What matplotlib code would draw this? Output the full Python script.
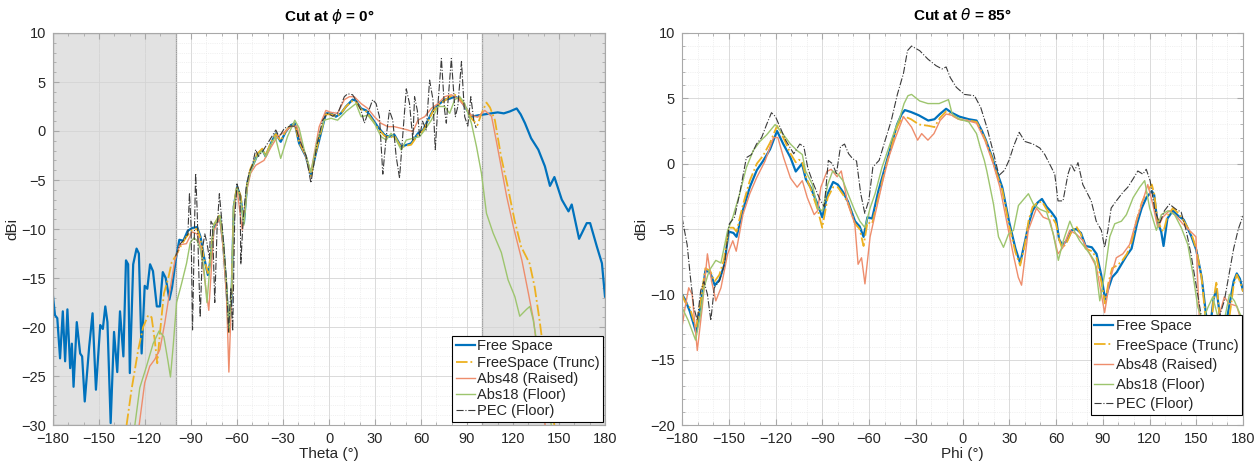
import matplotlib
matplotlib.use("Agg")
import matplotlib.pyplot as plt
from matplotlib.ticker import MultipleLocator

plt.rcParams["font.family"] = ["Liberation Sans", "DejaVu Sans"]
plt.rcParams["mathtext.fontset"] = "dejavusans"

# ---------------- Cut at phi = 0 (Theta sweep) ----------------
th_fs = [-180, -178.7, -177.2, -175.4, -173.6, -172.1, -170.6, -168.8, -167.7, -166.6,
         -164.5, -162.3, -161, -159.3, -156.4, -154.2, -152, -149.2, -147.5, -145.9,
         -144.5, -142.4, -140.2, -138.1, -136.3, -134.1, -132.4, -131, -129.9, -127.7,
         -125.5, -124, -122.2, -120.2, -118.5, -116.7, -114.8, -112.3, -110.3, -108.4,
         -106.5, -104.1, -102.4, -99.8, -97.6, -95, -92.2, -89.3, -86, -83.8,
         -81.6, -79, -77.3, -75.1, -72.9, -71.2, -69, -66.8, -65.3, -63.6,
         -62.1, -59.9, -57.7, -55.5, -53.3, -51.1, -46.7, -43.5, -41.3, -38,
         -34.7, -31.5, -28.2, -24.9, -22.3, -19.5, -15.1, -11.8, -8.6, -5.3,
         -2, 1.3, 4.5, 7.8, 11.1, 15.4, 17.5, 20.9, 24.2, 27.4,
         31.8, 36.2, 39.4, 42.7, 47.1, 50.4, 53.6, 58, 61.3, 64.5,
         67.8, 71.1, 75.4, 78.7, 82, 85.3, 88.5, 92.9, 97.3, 101.6,
         105.9, 110, 114, 118, 122.4, 125, 127.8, 131.8, 136.5, 140.8,
         144.1, 147, 151.8, 156.2, 158.3, 163.1, 168.1, 170.3, 174.7, 178, 180]
g_fs = [-16.9, -18.8, -19.1, -23.2, -18.4, -23.5, -18.2, -24.2, -21.7, -26.1,
        -19.5, -22.7, -23.0, -27.6, -22.0, -18.6, -26.4, -19.8, -20.2, -17.9,
        -19.5, -29.8, -20.5, -24.6, -18.4, -23.0, -13.2, -13.6, -24.7, -13.6,
        -12.0, -12.5, -22.7, -15.8, -16.1, -13.6, -14.3, -17.9, -17.9, -14.4,
        -15.0, -17.2, -16.0, -13.0, -11.1, -11.2, -10.2, -9.9, -9.8, -10.8,
        -12.8, -14.7, -13.2, -9.8, -9.3, -8.7, -11.5, -16.2, -20.5, -17.2,
        -7.7, -5.7, -6.7, -9.4, -5.3, -4.0, -2.45, -1.9, -2.6, -1.3,
        -0.25, -1.1, -0.07, 0.6, 0.78, -1.26, -2.6, -4.5, -2.3, -0.24,
        1.8, 1.8, 1.46, 1.8, 2.5, 3.2, 3.1, 2.3, 2.1, 1.46,
        0.44, -0.4, -0.58, -0.4, -1.6, -1.43, -1.26, -0.24, 0.1, 1.1,
        2.1, 2.65, 3.2, 3.3, 3.5, 3.3, 2.5, 1.46, 1.6, 1.7,
        1.8, 1.9, 1.8, 2.0, 2.3, 1.7, 0.8, -0.74, -1.9, -3.6,
        -5.6, -4.7, -7.0, -8.2, -7.5, -11.0, -9.4, -9.4, -11.8, -13.5, -16.9]

th_tr = [-132, -128.8, -124.4, -121.2, -117.9, -115.7, -113.6, -112, -110.3, -107.7,
         -104.8, -102.6, -99.4, -96.2, -93, -89.3, -86, -83.8, -81.6, -79,
         -77.3, -75.1, -72.9, -71.2, -69, -66.8, -65.3, -63.6, -62.1, -59.9,
         -57.7, -55.5, -53.3, -51.1, -46.7, -43.5, -41.3, -38, -34.7, -31.5,
         -28.2, -24.9, -22.3, -19.5, -15.1, -11.8, -8.6, -5.3, -2, 1.3,
         4.5, 7.8, 11.1, 15.4, 17.5, 20.9, 24.2, 27.4, 31.8, 36.2,
         39.4, 42.7, 47.1, 50.4, 53.6, 58, 61.3, 64.5, 67.8, 71.1,
         75.4, 78.7, 82, 85.3, 88.5, 92.9, 96.8, 99.5, 102.7, 105,
         108.2, 112.2, 116.6, 121, 125.3, 130.8, 134.1, 137.3, 140, 143, 147]
g_tr = [-30, -26.4, -22.3, -20.0, -18.8, -19.0, -21.4, -23.7, -20.7, -16.6,
        -15.0, -13.4, -12.6, -11.6, -10.8, -10.1, -10.0, -11.0, -13.0, -14.5,
        -12.8, -9.6, -9.0, -8.5, -11.5, -16.0, -20.7, -16.8, -7.5, -5.6,
        -6.6, -9.2, -5.2, -3.8, -2.3, -1.8, -2.5, -1.2, -0.3, -1.0,
        0.0, 0.6, 0.8, -1.2, -2.5, -4.6, -2.2, -0.1, 1.7, 1.7,
        1.5, 1.8, 2.5, 3.1, 3.0, 2.2, 2.0, 1.3, 0.3, -0.5,
        -0.7, -0.5, -1.7, -1.5, -1.4, -0.4, 0.0, 1.0, 2.0, 2.6,
        3.1, 3.5, 3.7, 3.3, 2.6, 1.3, 0.6, 1.8, 2.9, 2.4,
        1.1, -2.6, -5.7, -9.1, -11.8, -13.5, -15.9, -19.3, -22.5, -26.5, -30.0]

th_a48 = [-123.8, -120.2, -116.9, -113.6, -110.3, -107.1, -103.8, -100.5, -97.3, -93,
          -89.3, -86, -83.8, -81.6, -78.4, -76.5, -75.1, -72.9, -71.2, -69,
          -66.8, -65.3, -63.6, -62.1, -59.9, -56.6, -53.3, -51.1, -47.8, -42.4,
          -38, -33.7, -28.2, -24.9, -21, -17.3, -11.8, -6.4, -2.0, 1.3,
          5.6, 10, 13.3, 16.5, 20.9, 25.3, 29.6, 34, 38.4, 42.7,
          47.1, 51.4, 54.7, 58, 62.4, 66.7, 71.1, 75.4, 79.8, 84.2,
          88.5, 92.9, 97, 101.6, 106, 108.5, 111.5, 115.9, 120.3, 125.8,
          130.1, 133.4, 137, 141]
g_a48 = [-30, -25.7, -24.0, -23.3, -22.3, -19.6, -16.3, -13.2, -11.6, -11.5,
         -10.3, -10.5, -11.8, -14.5, -18.3, -13.5, -10.2, -9.4, -8.9, -12.0,
         -17.0, -24.6, -17.0, -8.0, -6.0, -10.1, -5.8, -4.3, -3.5, -3.0,
         -1.7, -0.6, 0.0, 0.44, 0.5, -1.6, -4.2, 0.44, 2.1, 1.9,
         1.8, 3.2, 3.5, 3.5, 2.8, 2.3, 1.46, 0.78, 0.44, 0.44,
         0.27, 0.1, -0.07, 1.1, 1.46, 2.3, 2.8, 3.5, 3.7, 3.3,
         2.5, 1.6, 1.4, 2.1, 1.5, -0.5, -3.0, -6.7, -9.8, -13.2,
         -16.6, -19.3, -24.0, -30.0]

th_a18 = [-126.6, -123.4, -119, -114.7, -110.8, -107.7, -105, -103.4, -101.6, -99.4,
          -96.2, -92.9, -90.5, -88, -86, -84, -81.6, -79.6, -77.5, -75.1,
          -72.9, -71.2, -69, -66.8, -65.3, -63.6, -62.1, -59.9, -57.7, -55.5,
          -53.3, -51.1, -46.7, -43.5, -41.3, -38, -35, -31.5, -27.1, -22.3,
          -19.5, -16.2, -11.8, -7.5, -3.1, 1.3, 5.6, 11.1, 17.6, 20.9,
          25.3, 29.6, 34, 37.3, 40.5, 43.8, 47.1, 50.4, 54.7, 59.1,
          62.4, 66.7, 71.1, 75.4, 78.7, 82, 85.3, 88.5, 92.9, 96.2,
          99.4, 102.7, 107, 112.4, 116.8, 121.2, 124.4, 128.8, 131, 133.2,
          137, 141, 145]
g_a18 = [-30, -26.2, -24.0, -21.7, -20.4, -21.0, -23.5, -25.1, -21.9, -17.5,
         -15.6, -13.5, -11.4, -10.9, -11.2, -12.0, -14.0, -17.5, -13.5, -9.5,
         -9.0, -8.6, -11.3, -15.8, -20.2, -16.5, -7.6, -5.8, -7.0, -9.6,
         -5.5, -4.1, -2.5, -2.0, -2.6, -1.4, -0.6, -2.8, -0.58, 1.1,
         0.3, -1.9, -4.2, -0.9, 1.1, 1.3, 1.1, 2.0, 2.8, 1.46,
         1.6, 0.78, -0.58, -0.92, -0.24, -0.92, -1.94, -0.92, -0.75, -0.58,
         0.1, 1.1, 2.5, 2.5, 1.8, 3.2, 3.5, 2.8, 0.78, -1.6,
         -4.3, -8.4, -10.4, -12.4, -15.2, -16.9, -18.9, -18.2, -17.9, -19.3,
         -23.0, -27.0, -30.0]

th_pec = [-100, -97, -94, -92, -91, -90, -89, -88, -87, -86,
          -85, -84, -82.5, -81, -79.5, -78, -77, -76, -74.5, -73,
          -71.5, -70, -69, -67, -65.5, -64, -62.8, -61.5, -60, -58,
          -57.5, -56, -54, -52, -50, -47.8, -46, -43, -39, -34.7,
          -32.5, -29, -25, -22, -19, -15, -11.8, -8, -4.2, -0.9,
          2.5, 6, 10, 12.2, 15.4, 18.7, 20.9, 23.1, 25.3, 28.5,
          30.7, 32.9, 35.1, 37.3, 39.4, 41.6, 43.8, 46, 48.2, 50.4,
          52.5, 54.7, 55.8, 57.6, 59.1, 61, 63.4, 65.6, 67.8, 69.3,
          71.1, 73.3, 75.4, 76.5, 79.8, 82.4, 84, 86.4, 88.5, 90.5,
          92.5, 94.5, 96]
g_pec = [-12.8, -11.5, -11.0, -10.5, -6.3, -9.5, -20.3, -12.0, -4.3, -8.0,
         -14.0, -19.0, -12.0, -10.5, -11.5, -13.0, -9.2, -9.5, -17.5, -10.0,
         -6.4, -9.0, -11.0, -15.0, -20.5, -16.0, -20.4, -9.0, -5.4, -6.5,
         -13.6, -9.0, -5.8, -4.2, -3.5, -1.9, -2.6, -2.0, -1.0, 0.1,
         -0.6, 0.3, 0.5, 0.5, -1.0, -2.5, -5.3, -1.5, 1.1, 1.8,
         1.5, 1.9, 3.5, 3.8, 3.7, 2.8, 2.1, 0.8, 1.8, 3.2,
         2.8, 1.46, -4.4, -0.6, 2.1, 1.1, -2.6, -4.8, -0.24, 4.3,
         2.8, -0.9, 3.5, 2.1, -0.6, 1.0, 0.1, 5.2, 3.2, -1.9,
         2.8, 7.4, 2.1, 0.8, 7.4, 1.46, 2.5, 7.1, 1.46, 0.5,
         3.5, 1.0, 0.3]

# ---------------- Cut at theta = 85 (Phi sweep) ----------------
ph_fs = [-180, -178, -175, -171, -168, -165, -162, -159, -156, -153,
         -150, -147, -145, -141, -136.5, -132, -128, -123.5, -119, -115,
         -110.5, -107, -105, -103, -100.5, -97.5, -93, -90, -86.5, -83,
         -80, -76.5, -73.5, -69, -66, -63.5, -61, -58, -54, -50,
         -45.5, -42, -39, -37, -33, -28, -22, -18, -14.5, -10.5,
         -7, -2, 4, 9, 12.5, 15, 19, 22, 25.5, 30,
         34, 37, 40, 42.5, 45, 48, 51, 54, 57, 60,
         62, 64, 67, 70, 73, 76, 79, 83, 86, 89,
         91.5, 93.5, 96, 99, 102, 105.5, 108.5, 112, 115, 118,
         121.5, 123, 125, 127.5, 129, 131.5, 135, 138.5, 142, 147,
         150, 153.5, 156.5, 159, 161, 163, 165, 168, 171, 174,
         176, 178, 180]
p_fs = [-10.0, -10.4, -11.3, -12.9, -10.8, -8.2, -8.3, -9.3, -8.9, -7.8,
        -5.2, -5.3, -5.6, -3.6, -1.8, -0.5, 0.2, 1.1, 2.5, 1.5,
        0.5, -0.6, -0.3, 0.0, -1.2, -1.8, -3.1, -4.1, -2.3, -1.4,
        -1.6, -2.2, -2.9, -4.4, -4.8, -5.6, -4.1, -4.2, -2.1, -0.4,
        1.5, 3.0, 3.8, 4.1, 3.95, 3.7, 3.3, 3.4, 3.8, 4.2,
        3.9, 3.6, 3.4, 3.3, 2.5, 1.8, 0.5, -0.6, -1.8, -4.5,
        -6.5, -7.6, -6.0, -4.6, -3.6, -3.0, -2.7, -3.3, -3.7, -4.2,
        -5.8, -6.2, -5.9, -5.1, -5.0, -5.3, -6.3, -6.4, -6.9, -8.5,
        -10.4, -9.6, -8.7, -8.3, -7.7, -7.0, -6.5, -4.6, -3.4, -2.6,
        -2.1, -2.4, -4.4, -5.2, -6.3, -4.2, -3.6, -4.0, -4.3, -5.6,
        -6.6, -8.7, -11.8, -12.5, -10.4, -9.6, -11.5, -13.0, -11.0, -9.0,
        -8.4, -8.8, -9.7]

ph_tr = ph_fs
p_tr = [-10.0, -10.6, -11.0, -12.6, -10.5, -8.0, -8.2, -9.0, -8.5, -7.3,
        -4.9, -4.9, -5.2, -3.2, -1.3, 0.0, 0.6, 1.6, 2.9, 2.0,
        0.8, 0.1, 0.3, 0.2, -1.0, -1.9, -3.5, -4.9, -2.6, -1.8,
        -1.8, -2.4, -3.0, -4.6, -5.0, -6.3, -4.5, -4.6, -2.6, -0.6,
        1.3, 2.8, 3.5, 3.6, 3.4, 3.0, 2.9, 2.8, 3.5, 4.0,
        3.7, 3.4, 3.3, 3.2, 2.4, 1.7, 0.4, -0.8, -2.0, -4.8,
        -6.8, -7.8, -6.2, -4.3, -3.3, -3.0, -2.9, -3.5, -4.0, -4.6,
        -5.8, -6.5, -6.0, -5.2, -4.8, -5.4, -6.5, -6.7, -7.2, -9.0,
        -10.7, -9.2, -8.0, -7.8, -7.5, -6.9, -6.0, -4.2, -3.0, -2.2,
        -1.6, -2.3, -4.2, -5.0, -5.2, -4.0, -3.4, -3.8, -4.4, -5.4,
        -6.5, -8.8, -12.5, -13.5, -10.5, -9.0, -11.8, -13.5, -12.0, -9.3,
        -8.5, -9.0, -9.8]

ph_a48 = [-180, -178, -175.7, -173.5, -170.2, -167, -163.7, -161, -158.3, -155,
          -150.7, -147.4, -145.2, -140.9, -136.5, -132.2, -126.7, -121.3, -118.5, -114.8,
          -110.4, -106.1, -102.8, -99.6, -95.2, -93, -90.9, -87, -84.3, -80.5,
          -77.8, -73.5, -69.1, -67, -64.8, -62.6, -59.3, -56.1, -51.7, -47.4,
          -43, -37.9, -32.7, -28.8, -26.2, -22.2, -18.3, -14.4, -10.5, -6.6,
          -2.7, 3, 9, 14.3, 19.8, 24, 28.3, 32.5, 35.8, 37.9,
          42.2, 47.5, 51.8, 56, 61.3, 64.5, 68.8, 73.1, 77.4, 81.6,
          85.9, 89.1, 91.2, 94.4, 98.7, 102.9, 107.2, 111.5, 115.7, 118.9,
          122.1, 125.3, 128.5, 132.8, 137.1, 141.3, 145.6, 149.8, 152, 155,
          160, 165, 168, 171, 176, 180]
p_a48 = [-12.5, -11.0, -9.5, -10.0, -14.3, -11.0, -6.9, -9.0, -10.5, -9.5,
         -6.9, -5.9, -6.7, -3.9, -2.3, -1.1, 0.2, 2.0, 2.0, 0.46,
         -1.1, -1.8, -1.3, -2.6, -3.9, -3.6, -1.8, -0.6, -0.43, -1.0,
         -0.56, -3.1, -4.6, -7.7, -7.2, -9.2, -5.6, -3.9, -1.6, 0.46,
         2.0, 3.6, 2.8, 1.8, 2.3, 1.8, 2.3, 3.3, 3.8, 3.7,
         3.4, 3.3, 3.1, 1.8, -0.05, -1.8, -4.4, -6.9, -8.7, -9.3,
         -5.1, -3.4, -4.1, -4.3, -6.9, -6.4, -5.1, -5.4, -5.9, -6.9,
         -7.9, -10.0, -11.4, -9.0, -7.2, -6.9, -6.2, -4.4, -2.85, -1.6,
         -3.1, -4.9, -4.1, -3.6, -4.0, -4.6, -5.1, -5.6, -12.0, -15.0,
         -13.5, -11.5, -10.2, -10.7, -10.9, -12.5]

ph_a18 = [-180, -176, -171.3, -168, -165.9, -162.6, -158.3, -155, -150.7, -147.4,
          -143, -138.7, -134.3, -130, -125.7, -120.2, -114.8, -110.4, -106.1, -102.8,
          -100.7, -96.3, -93, -89.8, -86.5, -83.3, -80, -76.7, -73.5, -69.1,
          -65.9, -62.6, -59.3, -56.1, -51.7, -47.4, -43, -40, -37.5, -35,
          -32.7, -27.5, -22.2, -15, -11, -9, -6.6, -2, 4, 9,
          11.5, 14, 15.6, 19.9, 23.1, 26.3, 29.5, 32.7, 35.9, 42.3,
          45.5, 49.8, 54, 58.3, 61.5, 64.7, 68.9, 71, 75.2, 81.7,
          85, 88.1, 91.3, 94.5, 97.7, 102, 105.2, 109.5, 113.7, 116.9,
          120.1, 124.4, 127.6, 131.9, 136.1, 140.4, 144.6, 147.8, 151, 154.2,
          157.5, 160.6, 164, 168, 171.3, 174.5, 177, 180]
p_a18 = [-11.0, -12.0, -13.5, -11.5, -9.5, -8.2, -7.4, -7.6, -5.1, -4.1,
         -2.3, -0.3, 1.0, 1.7, 2.2, 3.0, 2.2, 1.5, 1.0, 0.7,
         -0.56, -1.6, -3.4, -3.6, -1.6, -0.56, -0.8, -1.3, -2.3, -3.6,
         -4.4, -4.9, -3.4, -2.3, -0.3, 1.2, 2.7, 3.6, 4.6, 5.2,
         5.3, 4.8, 4.6, 4.6, 4.8, 4.9, 3.8, 3.4, 3.2, 2.3,
         1.2, 0.25, -0.56, -3.1, -5.6, -6.4, -5.4, -5.1, -3.2, -2.3,
         -3.1, -3.5, -3.7, -5.4, -7.4, -5.9, -4.4, -5.0, -5.9, -6.9,
         -7.5, -10.5, -8.4, -5.6, -4.6, -4.4, -3.9, -2.6, -1.8, -1.3,
         -3.4, -5.1, -3.9, -3.6, -3.9, -4.9, -6.2, -8.4, -11.0, -12.0,
         -11.0, -10.2, -11.8, -12.0, -10.0, -10.5, -11.2, -12.0]

ph_pec = [-180, -176.7, -174.6, -172.4, -170.2, -168, -165.9, -163.7, -161.5, -159.3,
          -156.1, -152.8, -149.6, -146.3, -143, -138.7, -135.4, -132.2, -128.9, -125.7,
          -122.6, -120, -113.5, -108.3, -104.4, -101.8, -99.2, -95.3, -91.3, -88.7,
          -86.1, -83.5, -80.9, -78.3, -75.7, -73.1, -70.5, -68, -65.3, -62.7,
          -60.1, -57.5, -53.5, -49.6, -45.7, -41.8, -37.9, -35.3, -32.7, -27.5,
          -22.2, -17, -13.1, -10.5, -7.9, -4, 1.2, 7.7, 11.7, 15.6,
          19.5, 23.4, 27, 30, 33, 36.4, 40, 45.3, 49.6, 52.8,
          56, 59.2, 61.3, 64.5, 67.7, 69.8, 71.9, 74.1, 77.2, 79.4,
          82.6, 85.8, 89.1, 91.2, 93.3, 95.4, 98.7, 102.9, 106.1, 109.3,
          112.5, 115.7, 117.9, 120.4, 123.2, 126.4, 129.6, 132.8, 137.1, 140.3,
          143.5, 146.6, 149.8, 153, 156.2, 160, 164, 168, 171, 174,
          177, 180]
p_pec = [-4.1, -6.2, -8.7, -11.0, -12.0, -9.7, -9.0, -10.0, -12.0, -9.5,
         -9.0, -7.7, -4.6, -4.1, -2.3, 0.46, 0.7, 1.5, 2.0, 3.0,
         3.9, 3.6, 1.8, 0.76, 1.5, 1.3, -0.38, -1.65, -2.8, -3.3,
         0.25, 0.0, -0.76, 1.3, 1.5, 0.76, 0.38, 0.2, -2.3, -3.8,
         -2.8, -0.25, 0.25, 1.8, 3.3, 5.3, 6.9, 8.65, 9.0, 8.65,
         8.0, 7.5, 7.25, 7.4, 6.6, 5.85, 5.3, 5.2, 4.3, 2.8,
         1.0, -0.9, -0.5, 0.3, 1.4, 2.4, 1.7, 1.5, 1.2, 0.7,
         -0.05, -0.8, -2.85, -2.85, -0.8, -0.05, -0.56, 0.08, -1.6, -2.1,
         -2.85, -4.4, -5.1, -6.4, -5.1, -3.4, -2.85, -2.2, -1.8, -1.2,
         -0.56, -0.8, -0.43, -1.3, -3.4, -4.6, -3.6, -3.1, -3.5, -3.7,
         -5.1, -6.9, -9.2, -11.5, -12.5, -13.0, -12.0, -10.5, -8.5, -6.5,
         -5.0, -4.0]

labels = ["Free Space", "FreeSpace (Trunc)", "Abs48 (Raised)", "Abs18 (Floor)", "PEC (Floor)"]
colors = ["#0072BD", "#EDB120", "#EE8D6C", "#9DC56E", "#3a3a3a"]
styles = ["-", "-.", "-", "-", "-."]
widths = [1.6, 1.3, 1.0, 1.0, 0.8]

tick_col = "#262626"
frame_col = "#a8a8a8"


def style_axes(ax, ymin, ymax, xlabel, title):
    ax.set_xlim(-180, 180)
    ax.set_ylim(ymin, ymax)
    ax.xaxis.set_major_locator(MultipleLocator(30))
    ax.xaxis.set_minor_locator(MultipleLocator(10))
    ax.yaxis.set_major_locator(MultipleLocator(5))
    ax.yaxis.set_minor_locator(MultipleLocator(1))
    ax.set_axisbelow(True)
    ax.grid(which="major", color="#d4d4d4", linewidth=0.6)
    ax.grid(which="minor", color="#e4e4e4", linewidth=0.5, linestyle=":")
    ax.tick_params(which="both", direction="in", top=True, right=True,
                   colors=frame_col, labelcolor=tick_col, labelsize=10.5)
    ax.tick_params(which="major", length=4)
    ax.tick_params(which="minor", length=2)
    ax.tick_params(axis="x", pad=5)
    ax.tick_params(axis="y", pad=5)
    for s in ax.spines.values():
        s.set_color(frame_col)
        s.set_linewidth(0.8)
    ax.set_xlabel(xlabel, fontsize=11, color=tick_col, labelpad=1)
    ax.set_ylabel("dBi", fontsize=11, color=tick_col, labelpad=1)
    ax.set_title(title, fontsize=11, fontweight="bold", color="black", pad=9)


def draw(ax, series, spacing, anchor):
    for (x, y), lab, c, ls, lw in zip(series, labels, colors, styles, widths):
        ax.plot(x, y, color=c, linestyle=ls, linewidth=lw, label=lab)
    leg = ax.legend(loc="lower right", bbox_to_anchor=anchor, fontsize=10.5, frameon=True,
                    fancybox=False, framealpha=1, edgecolor="black", borderpad=0.25,
                    labelspacing=spacing, handlelength=1.3, handletextpad=0.15,
                    borderaxespad=0.0)
    leg.get_frame().set_linewidth(0.8)
    for t in leg.get_texts():
        t.set_color(tick_col)


fig = plt.figure(figsize=(12.59, 4.69), dpi=100)
ax1 = fig.add_axes([53 / 1259, 44 / 469, 552 / 1259, 392 / 469])
ax2 = fig.add_axes([682 / 1259, 44 / 469, 561 / 1259, 392 / 469])

# shaded regions outside +/-100 deg
for a, b in [(-180, -100), (100, 180)]:
    ax1.axvspan(a, b, facecolor="#e2e2e2", edgecolor="#9a9a9a", linewidth=0.9, zorder=0.3)

draw(ax1, [(th_fs, g_fs), (th_tr, g_tr), (th_a48, g_a48), (th_a18, g_a18), (th_pec, g_pec)],
     0.15, (0.997, 0.008))
style_axes(ax1, -30, 10, "Theta (°)", r"Cut at $\phi$ = 0°")

draw(ax2, [(ph_fs, p_fs), (ph_tr, p_tr), (ph_a48, p_a48), (ph_a18, p_a18), (ph_pec, p_pec)],
     0.38, (0.998, 0.026))
style_axes(ax2, -20, 10, "Phi (°)", r"Cut at $\theta$ = 85°")

fig.savefig("out.png", dpi=100)
